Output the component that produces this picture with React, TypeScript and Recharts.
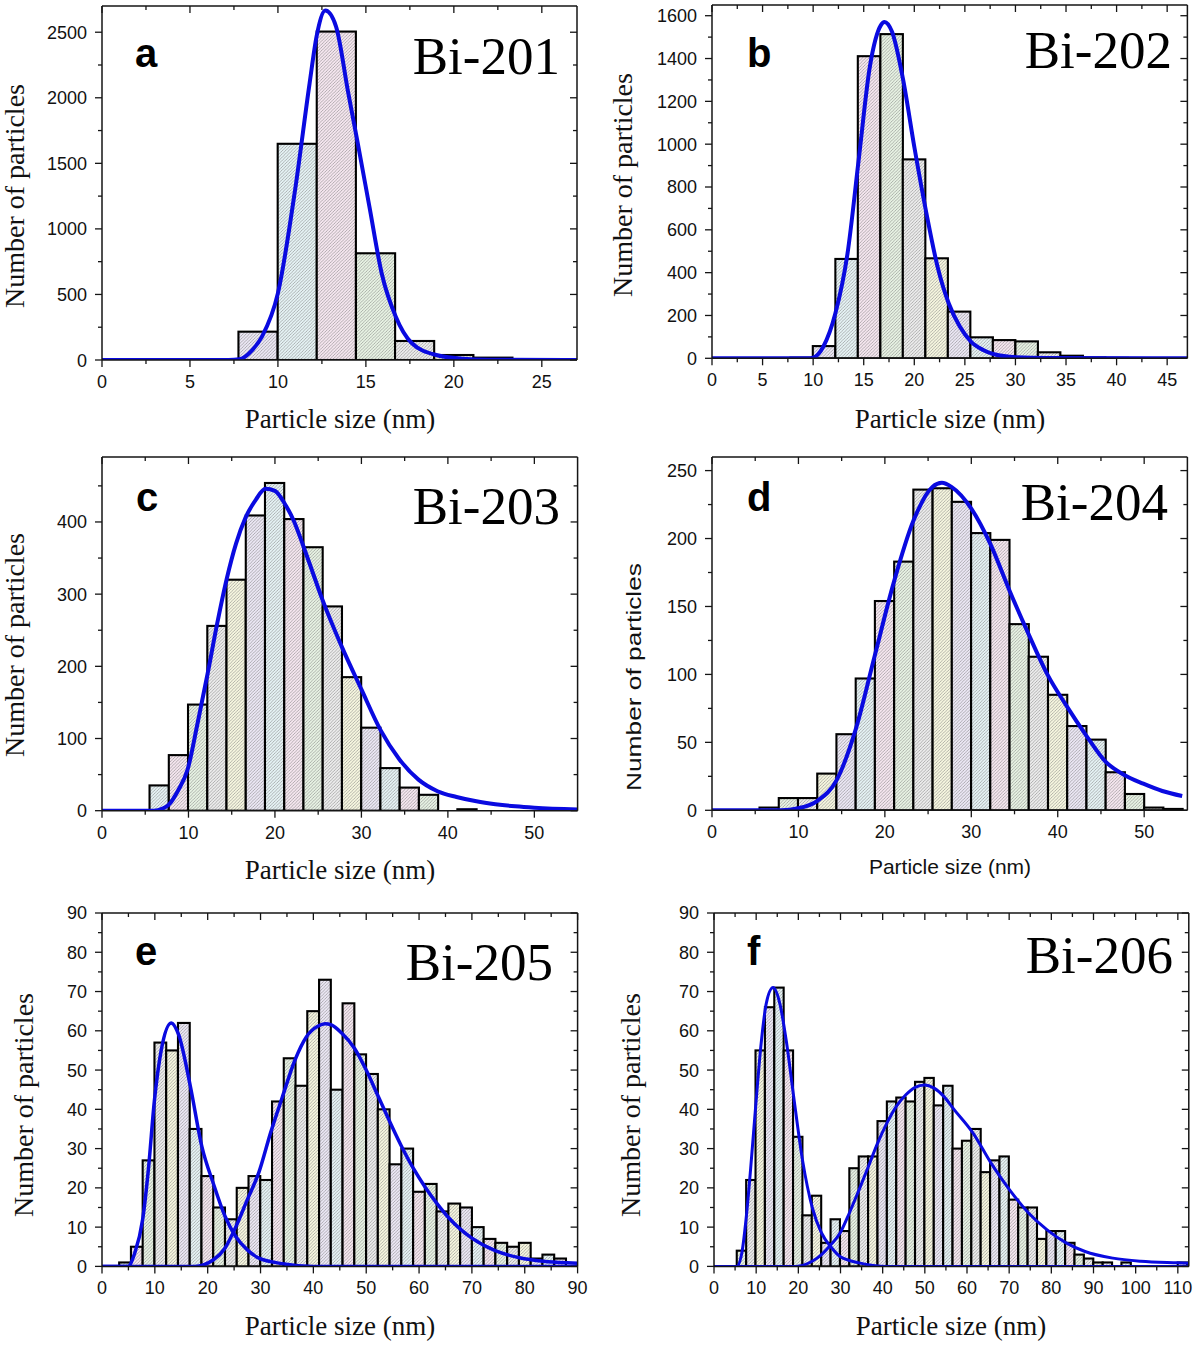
import React from "react";
import { ComposedChart, Bar, Line, XAxis, YAxis } from "recharts";

const SANS = "'Liberation Sans', Arial, sans-serif";
const SERIF = "'Liberation Serif', 'Times New Roman', serif";
const BLUE = "#0a0ae0";
const INK = "#151515";
const BIN_WIDTH = 2.225;

// pastel tints behind the hatching, cycled over the bars
const TINTS = ["#f6f6df", "#ebe7f4", "#e5f2f4", "#f5e6ef", "#e7f2e3", "#ececec"];

// ---------- a: Bi-201
const A_CENTERS = [8.87, 11.1, 13.32, 15.55, 17.77, 20.0, 22.22, 24.45];
const A_COUNTS = [216, 1649, 2505, 814, 145, 38, 18, 5];
const A_FIT_X = [0, 7.2, 7.8, 8.5, 9.1, 10.0, 11.0, 11.8, 12.2, 12.7, 13.3, 14.0, 14.5, 15.2, 15.9, 16.7, 17.6, 19.0, 20.5, 22.0, 27];
const A_FIT_Y = [0, 0, 5, 70, 180, 510, 1320, 2110, 2470, 2665, 2545, 2035, 1680, 1170, 660, 330, 130, 38, 10, 2, 0];
const A_X_TICKS = [0, 2.5, 5, 7.5, 10, 12.5, 15, 17.5, 20, 22.5, 25];
const A_Y_TICKS = [0, 250, 500, 750, 1000, 1250, 1500, 1750, 2000, 2250, 2500];

// ---------- b: Bi-202
const B_CENTERS = [8.86, 11.08, 13.31, 15.53, 17.76, 19.98, 22.21, 24.43, 26.66, 28.88, 31.11, 33.33, 35.56, 37.78, 40.01, 42.23];
const B_COUNTS = [3, 57, 464, 1411, 1514, 929, 467, 218, 98, 85, 79, 28, 12, 4, 2, 1];
const B_FIT_X = [0, 9.5, 10.0, 11.0, 12.2, 13.4, 14.5, 15.6, 16.7, 17.05, 17.8, 18.9, 20.0, 21.2, 22.3, 23.4, 24.5, 25.6, 26.8, 27.9, 30.1, 33.0, 47];
const B_FIT_Y = [0, 0, 3, 54, 210, 490, 926, 1360, 1556, 1571, 1525, 1300, 988, 677, 428, 257, 148, 78, 39, 19, 5, 1, 0];
const B_X_TICKS = [0, 2.5, 5, 7.5, 10, 12.5, 15, 17.5, 20, 22.5, 25, 27.5, 30, 32.5, 35, 37.5, 40, 42.5, 45];
const B_Y_TICKS = [0, 100, 200, 300, 400, 500, 600, 700, 800, 900, 1000, 1100, 1200, 1300, 1400, 1500, 1600];

// ---------- c: Bi-203
const C_CENTERS = [6.61, 8.84, 11.06, 13.29, 15.51, 17.74, 19.96, 22.19, 24.41, 26.64, 28.86, 31.09, 33.31, 35.54, 37.76, 42.21];
const C_COUNTS = [35, 77, 147, 256, 320, 409, 454, 404, 365, 283, 185, 115, 59, 32, 22, 2];
const C_FIT_X = [0, 6.0, 7.0, 7.7, 8.8, 9.9, 11.0, 12.2, 13.3, 14.4, 15.5, 16.6, 17.8, 18.9, 20.0, 21.1, 22.2, 23.3, 24.4, 25.5, 27.7, 30.0, 32.2, 34.4, 36.6, 38.8, 41.0, 43.3, 45.5, 47.8, 50.0, 55.0];
const C_FIT_Y = [0, 0, 3, 8, 28, 57, 118, 189, 258, 320, 370, 406, 431, 446, 443, 426, 401, 366, 329, 292, 228, 168, 112, 71, 43, 27, 19, 13, 9, 6, 4, 1.5];
const C_X_TICKS = [0, 5, 10, 15, 20, 25, 30, 35, 40, 45, 50];
const C_Y_TICKS = [0, 50, 100, 150, 200, 250, 300, 350, 400, 450];

// ---------- d: Bi-204
const D_CENTERS = [6.61, 8.84, 11.06, 13.29, 15.51, 17.74, 19.96, 22.19, 24.41, 26.64, 28.86, 31.09, 33.31, 35.54, 37.76, 39.99, 42.21, 44.44, 46.66, 48.89, 51.11, 53.34];
const D_COUNTS = [2, 9, 9, 27, 56, 97, 154, 183, 236, 237, 227, 204, 199, 137, 113, 85, 62, 52, 28, 12, 2, 1];
const D_FIT_X = [0, 8, 10, 12.2, 14.4, 16.6, 18.8, 21.0, 23.3, 25.5, 26.6, 27.7, 30.0, 32.2, 34.4, 36.6, 38.8, 41.0, 43.3, 45.5, 47.7, 49.9, 52.1, 54.4];
const D_FIT_Y = [0, 0, 1.5, 7, 22, 59, 113, 167, 213, 238, 241, 238, 222, 196, 162, 130, 100, 77, 55, 36, 26, 19.6, 14.2, 10.5];
const D_X_TICKS = [0, 5, 10, 15, 20, 25, 30, 35, 40, 45, 50];
const D_Y_TICKS = [0, 25, 50, 75, 100, 125, 150, 175, 200, 225, 250];

// ---------- e: Bi-205
const E_CENTERS = [4.36, 6.59, 8.81, 11.04, 13.26, 15.49, 17.71, 19.94, 22.16, 24.39, 26.61, 28.84, 31.06, 33.29, 35.51, 37.74, 39.96, 42.19, 44.41, 46.64, 48.86, 51.09, 53.31, 55.54, 57.76, 59.99, 62.21, 64.44, 66.66, 68.89, 71.11, 73.34, 75.56, 77.79, 80.01, 82.24, 84.46, 86.69];
const E_COUNTS = [1, 5, 27, 57, 55, 62, 35, 23, 15, 12, 20, 23, 22, 42, 53, 46, 65, 73, 45, 67, 54, 49, 40, 26, 30, 19, 21, 14, 16, 15, 10, 7, 6, 5, 6, 2, 3, 2];
const E_FIT1_X = [0, 4.9, 6.2, 7.7, 8.8, 9.9, 11.2, 13.1, 14.5, 16.7, 18.9, 21.1, 23.3, 25.3, 27.5, 29.7, 34.1, 40, 90];
const E_FIT1_Y = [0, 0, 3.4, 12, 25, 42, 55, 62, 59, 46, 30.5, 21, 12.7, 7.6, 4.2, 2.1, 0.7, 0, 0];
const E_FIT2_X = [0, 17.5, 21.1, 23.3, 25.3, 27.5, 29.7, 31.9, 34.1, 36.5, 38.7, 40.9, 42.2, 43.4, 45.3, 47.8, 50.0, 52.2, 54.4, 56.6, 58.9, 61.1, 63.4, 65.6, 67.8, 70.0, 74.4, 79.0, 83.5, 88.0, 90];
const E_FIT2_Y = [0, 0, 1.7, 4.7, 10, 17, 24, 34, 43, 52.5, 58.5, 61.2, 61.8, 61.5, 59.5, 55.5, 50, 43.5, 37, 30.8, 25, 20.3, 16, 12.4, 9.5, 7.2, 4, 2.2, 1.3, 0.9, 0.8];
const E_X_TICKS = [0, 5, 10, 15, 20, 25, 30, 35, 40, 45, 50, 55, 60, 65, 70, 75, 80, 85, 90];
const E_Y_TICKS = [0, 5, 10, 15, 20, 25, 30, 35, 40, 45, 50, 55, 60, 65, 70, 75, 80, 85, 90];

// ---------- f: Bi-206
const F_CENTERS = [6.51, 8.74, 10.96, 13.19, 15.41, 17.64, 19.86, 22.09, 24.31, 26.54, 28.76, 30.99, 33.21, 35.44, 37.66, 39.89, 42.11, 44.34, 46.56, 48.79, 51.01, 53.24, 55.46, 57.69, 59.91, 62.14, 64.36, 66.59, 68.81, 71.04, 73.26, 75.49, 77.71, 79.94, 82.16, 84.39, 86.61, 88.84, 91.06, 93.29, 97.74, 111.09];
const F_COUNTS = [4, 22, 55, 66, 71, 55, 33, 13, 18, 6, 12, 9, 25, 28, 28, 37, 42, 43, 42, 47, 48, 41, 46, 30, 32, 35, 24, 27, 28, 17, 15, 15, 7, 9, 9, 6, 3, 2, 1, 1, 1, 1];
const F_FIT1_X = [0, 5.4, 6.6, 7.6, 8.7, 9.9, 11.2, 12.4, 14.0, 15.6, 17.2, 18.8, 21.0, 23.3, 25.5, 27.7, 29.9, 34.4, 41, 112.6];
const F_FIT1_Y = [0, 0, 3.4, 12, 25, 41, 57, 67, 71, 67, 57, 44, 27, 15, 8.5, 5, 2.5, 0.9, 0, 0];
const F_FIT2_X = [0, 19.4, 23.3, 25.5, 27.7, 29.9, 32.1, 34.4, 36.6, 38.8, 41.0, 43.2, 45.5, 47.7, 49.9, 52.2, 54.5, 56.9, 61.4, 65.7, 70.1, 74.6, 79.0, 83.5, 88.0, 94.6, 101.2, 110.0, 112.6];
const F_FIT2_Y = [0, 0, 1.3, 3, 5.5, 8.5, 13.6, 19.5, 25.4, 31.4, 36.5, 40.7, 43.7, 45.6, 46.2, 45.4, 43.3, 40, 34, 26.3, 19.5, 13.6, 9.3, 6, 3.8, 2.1, 1.3, 0.9, 0.8];
const F_X_TICKS = [0, 5, 10, 15, 20, 25, 30, 35, 40, 45, 50, 55, 60, 65, 70, 75, 80, 85, 90, 95, 100, 105, 110];
const F_Y_TICKS = [0, 5, 10, 15, 20, 25, 30, 35, 40, 45, 50, 55, 60, 65, 70, 75, 80, 85, 90];

const toBins = (xs: number[], counts: number[]) => xs.map((x, i) => ({ x, count: counts[i] }));
const toCurve = (xs: number[], ys: number[]) => xs.map((x, i) => ({ x, y: ys[i] }));

type Side = "bottom" | "left" | "top" | "right";

function makeTick(side: Side, majorStep: number, fontSize: number) {
  return (props: any) => {
    const { x, y, payload } = props;
    const v = Number(payload.value);
    const isMajor = Math.abs(v / majorStep - Math.round(v / majorStep)) < 1e-6;
    const len = isMajor ? 7 : 4;
    const ln = { stroke: INK, strokeWidth: 1.3 };
    const label = { fontFamily: SANS, fontSize, fill: "#111" };
    if (side === "bottom") {
      return (
        <g>
          <line x1={x} x2={x} y1={y} y2={y + len} {...ln} />
          {isMajor && <text x={x} y={y + 28} textAnchor="middle" {...label}>{v}</text>}
        </g>
      );
    }
    if (side === "left") {
      return (
        <g>
          <line x1={x - len} x2={x} y1={y} y2={y} {...ln} />
          {isMajor && <text x={x - 15} y={y + 6.5} textAnchor="end" {...label}>{v}</text>}
        </g>
      );
    }
    if (side === "top") return <line x1={x} x2={x} y1={y} y2={y + len} {...ln} />;
    return <line x1={x - len} x2={x} y1={y} y2={y} {...ln} />;
  };
}

interface PanelProps {
  left: number;
  top: number;
  w: number;
  h: number;
  xMax: number;
  yMax: number;
  bins: { x: number; count: number }[];
  fits: { x: number; y: number }[][];
  xTicks: number[];
  yTicks: number[];
  xMajor: number;
  yMajor: number;
  lineWidth: number;
  tintShift: number;
}

function Histogram(p: PanelProps) {
  const yW = 60;
  const mTop = 14;
  const mRight = 16;
  const binPx = (BIN_WIDTH / p.xMax) * p.w;
  const axis = { stroke: INK, strokeWidth: 1.5 };

  // recharts places the bar at the bin centre; the bar is widened to the full bin
  const binShape = (props: any) => {
    const cx = props.x + props.width / 2;
    if (!props.height || props.height <= 0) return <g />;
    return (
      <rect x={cx - binPx / 2} y={props.y} width={binPx} height={props.height}
        fill={`url(#hatch${(props.index + p.tintShift) % TINTS.length})`} stroke="#000" strokeWidth={2.1} />
    );
  };

  return (
    <div style={{ position: "absolute", left: p.left - yW, top: p.top - mTop - 1 }}>
      <ComposedChart
        width={yW + p.w + 1 + mRight}
        height={mTop + 1 + p.h + 45}
        data={p.bins}
        margin={{ top: mTop, right: mRight, bottom: 5, left: 0 }}
      >
        <XAxis xAxisId={0} type="number" dataKey="x" domain={[0, p.xMax]} allowDataOverflow
          ticks={p.xTicks} interval={0} height={40} tickSize={0} tickMargin={0} tickLine={false}
          axisLine={axis} tick={makeTick("bottom", p.xMajor, 18)} />
        <XAxis xAxisId="top" orientation="top" type="number" dataKey="x" domain={[0, p.xMax]} allowDataOverflow
          ticks={p.xTicks} interval={0} height={1} tickSize={0} tickMargin={0} tickLine={false}
          axisLine={axis} tick={makeTick("top", p.xMajor, 18)} />
        <YAxis yAxisId={0} type="number" domain={[0, p.yMax]} allowDataOverflow
          ticks={p.yTicks} interval={0} width={yW} tickSize={0} tickMargin={0} tickLine={false}
          axisLine={axis} tick={makeTick("left", p.yMajor, 18)} />
        <YAxis yAxisId="right" orientation="right" type="number" domain={[0, p.yMax]} allowDataOverflow
          ticks={p.yTicks} interval={0} width={1} tickSize={0} tickMargin={0} tickLine={false}
          axisLine={axis} tick={makeTick("right", p.yMajor, 18)} />
        <Bar dataKey="count" barSize={4} shape={binShape} isAnimationActive={false} />
        {p.fits.map((f, i) => (
          <Line key={i} data={f} dataKey="y" type="monotone" stroke={BLUE} strokeWidth={p.lineWidth}
            dot={false} activeDot={false} isAnimationActive={false} strokeLinejoin="round" />
        ))}
      </ComposedChart>
    </div>
  );
}

export default function App() {
  const yTitle = (x: number, y: number, sans?: boolean) => (
    <text
      x={x}
      y={y}
      transform={`rotate(-90 ${x} ${y})`}
      textAnchor="middle"
      fontFamily={sans ? SANS : SERIF}
      fontSize={sans ? 20 : 28}
      fill="#111"
      {...(sans ? { textLength: 228, lengthAdjust: "spacingAndGlyphs" } : {})}
    >
      Number of particles
    </text>
  );
  const xTitle = (x: number, y: number, sans?: boolean) => (
    <text x={x} y={y} textAnchor="middle" fontFamily={sans ? SANS : SERIF} fontSize={sans ? 21 : 27} fill="#111">
      Particle size (nm)
    </text>
  );
  const letter = (x: number, y: number, s: string) => (
    <text x={x} y={y} fontFamily={SANS} fontWeight="bold" fontSize={40} fill="#000">{s}</text>
  );
  const sample = (x: number, y: number, s: string) => (
    <text x={x} y={y} textAnchor="end" fontFamily={SERIF} fontSize={53} fill="#000">{s}</text>
  );

  return (
    <div style={{ position: "absolute", left: 0, top: 0, width: 1200, height: 1346, background: "#fff" }}>
      <Histogram left={102.3} top={6} w={475} h={354} xMax={27} yMax={2700}
        bins={toBins(A_CENTERS, A_COUNTS)} fits={[toCurve(A_FIT_X, A_FIT_Y)]}
        xTicks={A_X_TICKS} yTicks={A_Y_TICKS} xMajor={5} yMajor={500} lineWidth={4} tintShift={1} />
      <Histogram left={712.3} top={5} w={475.4} h={353.3} xMax={47} yMax={1650}
        bins={toBins(B_CENTERS, B_COUNTS)} fits={[toCurve(B_FIT_X, B_FIT_Y)]}
        xTicks={B_X_TICKS} yTicks={B_Y_TICKS} xMajor={5} yMajor={200} lineWidth={4} tintShift={0} />
      <Histogram left={101.7} top={457.3} w={475.6} h={353.7} xMax={55} yMax={490}
        bins={toBins(C_CENTERS, C_COUNTS)} fits={[toCurve(C_FIT_X, C_FIT_Y)]}
        xTicks={C_X_TICKS} yTicks={C_Y_TICKS} xMajor={10} yMajor={100} lineWidth={4} tintShift={2} />
      <Histogram left={712.3} top={456.7} w={475.4} h={353.3} xMax={55} yMax={260}
        bins={toBins(D_CENTERS, D_COUNTS)} fits={[toCurve(D_FIT_X, D_FIT_Y)]}
        xTicks={D_X_TICKS} yTicks={D_Y_TICKS} xMajor={10} yMajor={50} lineWidth={4} tintShift={3} />
      <Histogram left={101.7} top={913.3} w={475.6} h={353.4} xMax={90} yMax={90}
        bins={toBins(E_CENTERS, E_COUNTS)} fits={[toCurve(E_FIT1_X, E_FIT1_Y), toCurve(E_FIT2_X, E_FIT2_Y)]}
        xTicks={E_X_TICKS} yTicks={E_Y_TICKS} xMajor={10} yMajor={10} lineWidth={3.5} tintShift={2} />
      <Histogram left={713.8} top={913.3} w={474.8} h={353.4} xMax={112.6} yMax={90}
        bins={toBins(F_CENTERS, F_COUNTS)} fits={[toCurve(F_FIT1_X, F_FIT1_Y), toCurve(F_FIT2_X, F_FIT2_Y)]}
        xTicks={F_X_TICKS} yTicks={F_Y_TICKS} xMajor={10} yMajor={10} lineWidth={3} tintShift={4} />

      <svg width={1200} height={1346} style={{ position: "absolute", left: 0, top: 0, pointerEvents: "none" }}>
        <defs>
          {TINTS.map((t, i) => (
            <pattern key={i} id={`hatch${i}`} patternUnits="userSpaceOnUse" width={3.2} height={3.2}>
              <rect width={3.2} height={3.2} fill={t} />
              <path d="M-0.8,0.8 L0.8,-0.8 M0,3.2 L3.2,0 M2.4,4 L4,2.4" stroke="#7e7e7e" strokeWidth={0.55} />
            </pattern>
          ))}
        </defs>

        {letter(135, 67, "a")}
        {sample(560, 74, "Bi-201")}
        {xTitle(340, 428)}
        {yTitle(24, 196)}

        {letter(747, 67, "b")}
        {sample(1172, 68, "Bi-202")}
        {xTitle(950, 428)}
        {yTitle(632, 185)}

        {letter(136, 511, "c")}
        {sample(560, 524, "Bi-203")}
        {xTitle(340, 879)}
        {yTitle(24, 645)}

        {letter(747, 511, "d")}
        {sample(1168, 520, "Bi-204")}
        {xTitle(950, 874, true)}
        {yTitle(641, 677, true)}

        {letter(135, 965, "e")}
        {sample(553, 980, "Bi-205")}
        {xTitle(340, 1335)}
        {yTitle(33, 1105)}

        {letter(747, 965, "f")}
        {sample(1173, 973, "Bi-206")}
        {xTitle(951, 1335)}
        {yTitle(640, 1105)}
      </svg>
    </div>
  );
}
